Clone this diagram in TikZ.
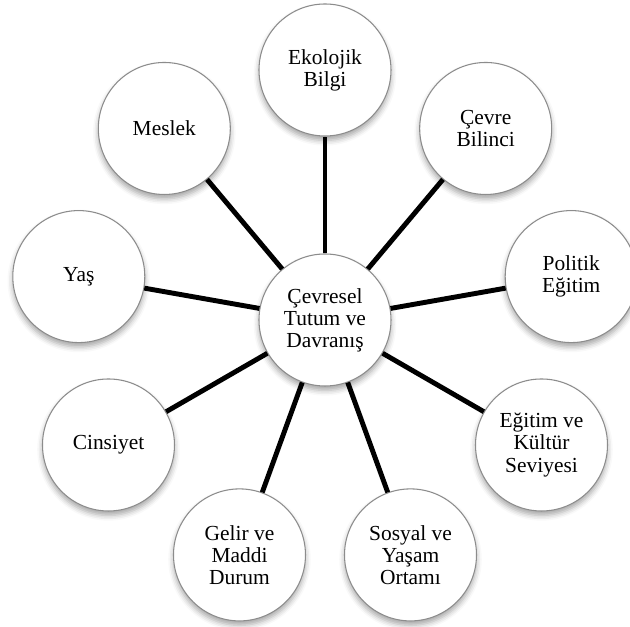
\documentclass[tikz,border=0pt]{standalone}
\usepackage{fontspec}
\setmainfont{Liberation Serif}
\usetikzlibrary{shadows.blur}

\tikzset{
  bubble/.style={circle, draw=black!45, line width=0.6pt, fill=white,
    minimum size=2.64cm, inner sep=0pt, align=center,
    font=\fontsize{12.2}{12.6}\selectfont,
    blur shadow={shadow xshift=0pt, shadow yshift=-2.5pt, shadow blur radius=3pt, shadow opacity=35}},
  link/.style={line width=2.8pt, black}
}

\begin{document}
\begin{tikzpicture}
\useasboundingbox (-6.5,-6.14) rectangle (6.1,6.4);

\node[bubble] (ctr) at (0,0) {Çevresel\\Tutum ve\\Davranış};
\node[bubble] (eko) at (90:5) {Ekolojik\\Bilgi};
\node[bubble] (bil) at (50:5) {Çevre\\Bilinci};
\node[bubble] (pol) at (10:5) {Politik\\Eğitim};
\node[bubble] (kul) at (-30:5) {Eğitim ve\\Kültür\\Seviyesi};
\node[bubble] (sos) at (-70:5) {Sosyal ve\\Yaşam\\Ortamı};
\node[bubble] (gel) at (-110:5) {Gelir ve\\Maddi\\Durum};
\node[bubble] (cin) at (-150:5) {Cinsiyet};
\node[bubble] (yas) at (170:5) {Yaş};
\node[bubble] (mes) at (130:5) {Meslek};

\draw[link] (ctr) -- (eko);
\draw[link] (ctr) -- (bil);
\draw[link] (ctr) -- (pol);
\draw[link] (ctr) -- (kul);
\draw[link] (ctr) -- (sos);
\draw[link] (ctr) -- (gel);
\draw[link] (ctr) -- (cin);
\draw[link] (ctr) -- (yas);
\draw[link] (ctr) -- (mes);

\end{tikzpicture}
\end{document}
